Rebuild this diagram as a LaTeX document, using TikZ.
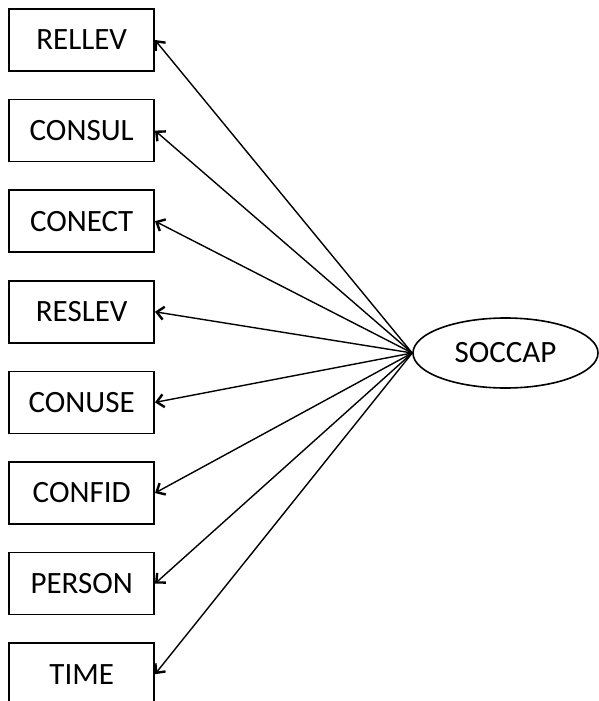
\documentclass[tikz,border=0pt]{standalone}
\usepackage{fontspec}
\setmainfont{Carlito}
\usetikzlibrary{arrows.meta,shapes.geometric}

\begin{document}
\begin{tikzpicture}[x=1pt,y=-1pt,
    var/.style={draw,line width=1.6pt,minimum width=145pt,minimum height=62pt,
      font=\fontsize{31}{36}\selectfont},
    lat/.style={draw,ellipse,line width=1.6pt,minimum width=185pt,minimum height=70pt,
      inner sep=0pt,font=\fontsize{31}{36}\selectfont},
    load/.style={line width=1.4pt,-{Straight Barb[length=7pt,width=13pt,line width=2.4pt]}}]
  \useasboundingbox (0,0) rectangle (599,701);
  \clip (0,0) rectangle (599,701);

  \node[lat] (soccap) at (505.5,353) {SOCCAP};

  \foreach \name [count=\i from 0] in {RELLEV,CONSUL,CONECT,RESLEV,CONUSE,CONFID,PERSON,TIME} {
    \node[var] (v\i) at (81.7,40+90.6*\i) {\name};
    \draw[load] (soccap.west) -- (v\i.east);
  }
\end{tikzpicture}
\end{document}
